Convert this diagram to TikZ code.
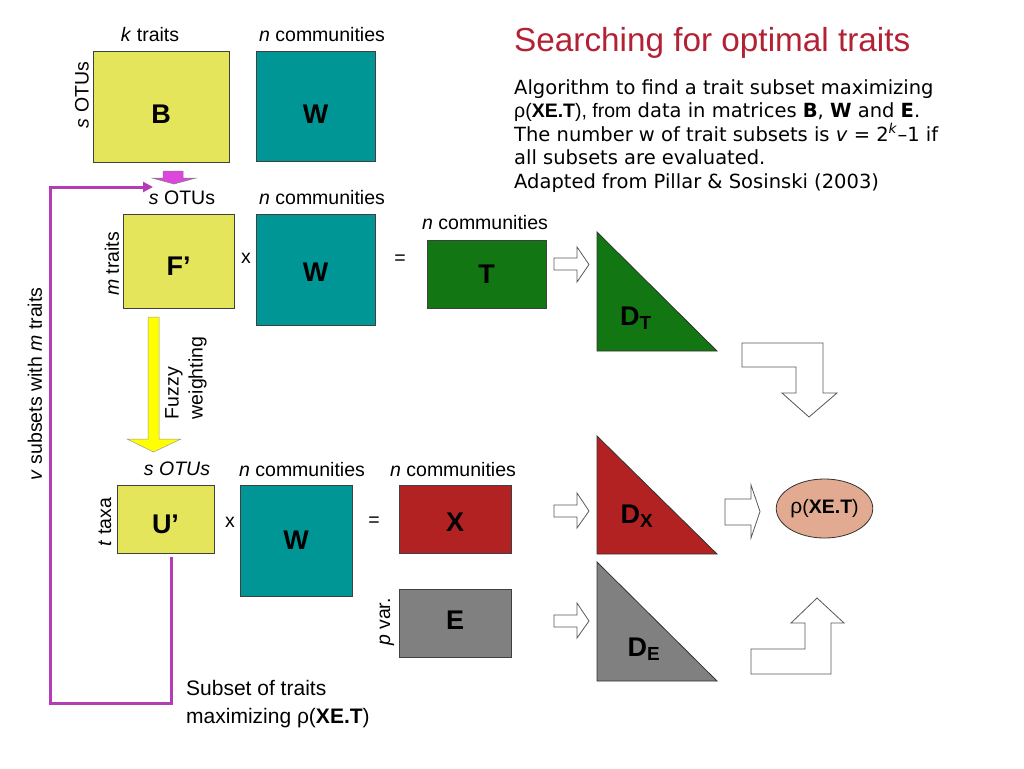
\documentclass[tikz,border=0pt]{standalone}
\usepackage{fontspec}
\setmainfont{Liberation Sans}
\newfontfamily\verd{DejaVu Sans}
\usetikzlibrary{shapes.geometric,arrows.meta}
\definecolor{yel}{HTML}{E5E55C}
\definecolor{teal}{HTML}{009696}
\definecolor{dgreen}{HTML}{127612}
\definecolor{dred}{HTML}{B22222}
\definecolor{mgray}{HTML}{808080}
\definecolor{salmon}{HTML}{E1AA91}
\definecolor{titlered}{HTML}{B22234}
\definecolor{loopc}{HTML}{B43CB4}
\definecolor{pinkf}{HTML}{DC46DC}
\definecolor{brightyel}{HTML}{FFFF00}
\newcommand{\shiftlab}[2]{\raisebox{#1}[\height][0pt]{#2}}
\begin{document}
\begin{tikzpicture}[x=1pt,y=-1pt,
  mat/.style={draw=black!75,line width=0.8pt,inner sep=0pt,font=\fontsize{27}{30}\selectfont\bfseries},
  lab/.style={font=\fontsize{19.5}{24}\selectfont,inner sep=0pt},
  hollow/.style={draw=black!65,fill=white,line width=0.8pt},
  tri/.style={draw=black!80,line width=0.8pt},
  dlab/.style={font=\fontsize{27}{30}\selectfont\bfseries,inner sep=0pt},
  loopline/.style={draw=loopc,line width=3pt}]
\useasboundingbox[fill=white] (0,0) rectangle (1024,768);

% title and description
\node[anchor=west,inner sep=0pt,text=titlered,font=\fontsize{33.3}{36}\selectfont] (title) at (514,43) {Searching for optimal traits};
\node[anchor=north west,inner sep=0pt,align=left,font=\verd\fontsize{19.5}{23.5}\selectfont] (desc) at (514,79)
 {Algorithm to find a trait subset maximizing\\
  {\rmfamily ρ(\textbf{XE.T}), from} data in matrices \textbf{B}, \textbf{W} and \textbf{E}.\\
  The number w of trait subsets is \textit{v} = 2\textsuperscript{\textit{k}}–1 if\\
  all subsets are evaluated.\\
  Adapted from Pillar \& Sosinski (2003)};

% row 1
\node[mat,fill=yel,minimum width=136,minimum height=111] (B) at (161,106.5) {\shiftlab{-8pt}{B}};
\node[mat,fill=teal,minimum width=119,minimum height=110] (W1) at (315.5,106) {\shiftlab{-8pt}{W}};
\node[lab] (kt) at (150,35) {\textit{k} traits};
\node[lab] (nc1) at (322,35) {\textit{n} communities};
\node[lab,rotate=90] (so1) at (82,95) {\textit{s} OTUs};

% pink small arrow
\draw[fill=pinkf,draw=black!50,line width=0.5pt] (163,171) -- (183,171) -- (183,178) -- (196,178) -- (174,184) -- (152,178) -- (163,178) -- cycle;

% row 2
\node[lab] (so2) at (182,198) {\textit{s} OTUs};
\node[lab] (nc2) at (322,198) {\textit{n} communities};
\node[mat,fill=yel,minimum width=111,minimum height=94] (F) at (178.5,261) {\shiftlab{-5pt}{F’}};
\node[lab,rotate=90] (mt) at (112,264) {\textit{m} traits};
\node[lab] (x1) at (246,258) {x};
\node[mat,fill=teal,minimum width=119,minimum height=111] (W2) at (315.5,269.5) {\shiftlab{-3pt}{W}};
\node[lab] (eq1) at (400,260) {=};
\node[lab] (nc3) at (485,223) {\textit{n} communities};
\node[mat,fill=dgreen,minimum width=119,minimum height=68] (T) at (486.5,274) {T};
\draw[hollow] (554,258) -- (577,258) -- (577,247) -- (589,264.5) -- (577,282) -- (577,270) -- (554,270) -- cycle;
\draw[tri,fill=dgreen] (597,232) -- (597,351) -- (717,351) -- cycle;
\node[dlab] (DT) at (636,318) {D\textsubscript{T}};
\draw[hollow] (742,343) -- (823,343) -- (823,393) -- (837,393) -- (809,417) -- (782,393) -- (796,393) -- (796,367) -- (742,367) -- cycle;

% yellow arrow
\draw[fill=brightyel,draw=black!40,line width=0.5pt] (148,317) -- (159,317) -- (159,439) -- (181,439) -- (153.5,452) -- (127,439) -- (148,439) -- cycle;
\node[lab,rotate=90,align=left] (fw) at (186,378) {Fuzzy\\weighting};

% row 3
\node[lab] (so3) at (177,469) {\textit{s OTUs}};
\node[lab] (nc4) at (302,470) {\textit{n} communities};
\node[lab] (nc5) at (453,470) {\textit{n} communities};
\node[mat,fill=yel,minimum width=97,minimum height=68] (U) at (165.5,519) {\shiftlab{-5pt}{U’}};
\node[lab,rotate=90] (tt) at (105,522) {\textit{t} taxa};
\node[lab] (x2) at (230,522) {x};
\node[mat,fill=teal,minimum width=112,minimum height=111] (W3) at (296,540.5) {W};
\node[lab] (eq2) at (374,522) {=};
\node[mat,fill=dred,minimum width=112,minimum height=68] (X) at (455,519) {\shiftlab{-3pt}{X}};
\node[mat,fill=mgray,minimum width=112,minimum height=68] (E) at (455,623) {\shiftlab{3pt}{E}};
\node[lab,rotate=90] (pv) at (387,622) {\textit{p} var.};

\draw[hollow] (554,505) -- (577,505) -- (577,493) -- (589,511) -- (577,528) -- (577,517) -- (554,517) -- cycle;
\draw[hollow] (554,615) -- (577,615) -- (577,603) -- (589,621) -- (577,638) -- (577,627) -- (554,627) -- cycle;
\draw[tri,fill=dred] (597,436) -- (597,554) -- (717,554) -- cycle;
\node[dlab] (DX) at (637,516) {D\textsubscript{X}};
\draw[tri,fill=mgray] (597,562) -- (597,681) -- (717,681) -- cycle;
\node[dlab] (DE) at (644,649) {D\textsubscript{E}};

\draw[hollow] (725,499) -- (751,499) -- (751,485) -- (760,511.5) -- (751,538) -- (751,525) -- (725,525) -- cycle;
\node[ellipse,draw=black!80,fill=salmon,line width=0.8pt,minimum width=95,minimum height=59,inner sep=0pt,font=\fontsize{19.5}{22}\selectfont] (rho) at (824.5,508.5) {{\fontsize{21}{22}\selectfont ρ}(\textbf{XE.T})};
\draw[hollow] (751,674) -- (751,649) -- (805,649) -- (805,623) -- (791,623) -- (817,598) -- (844,623) -- (831,623) -- (831,674) -- cycle;

% loop
\node[lab,rotate=90] (vs) at (35,384) {\textit{v} subsets with \textit{m} traits};
\coordinate (loopend) at (153,187);
\coordinate (loopbl) at (50,703);
\draw[loopline,-{Triangle[length=10pt,width=10pt]}] ([xshift=5.5pt,yshift=-4pt]U.south) |- (loopbl) |- (loopend);
\node[anchor=north west,inner sep=0pt,align=left,font=\fontsize{21}{28}\selectfont] (sub) at (186,680) {Subset of traits\\maximizing ρ(\textbf{XE.T})};
\end{tikzpicture}
\end{document}
